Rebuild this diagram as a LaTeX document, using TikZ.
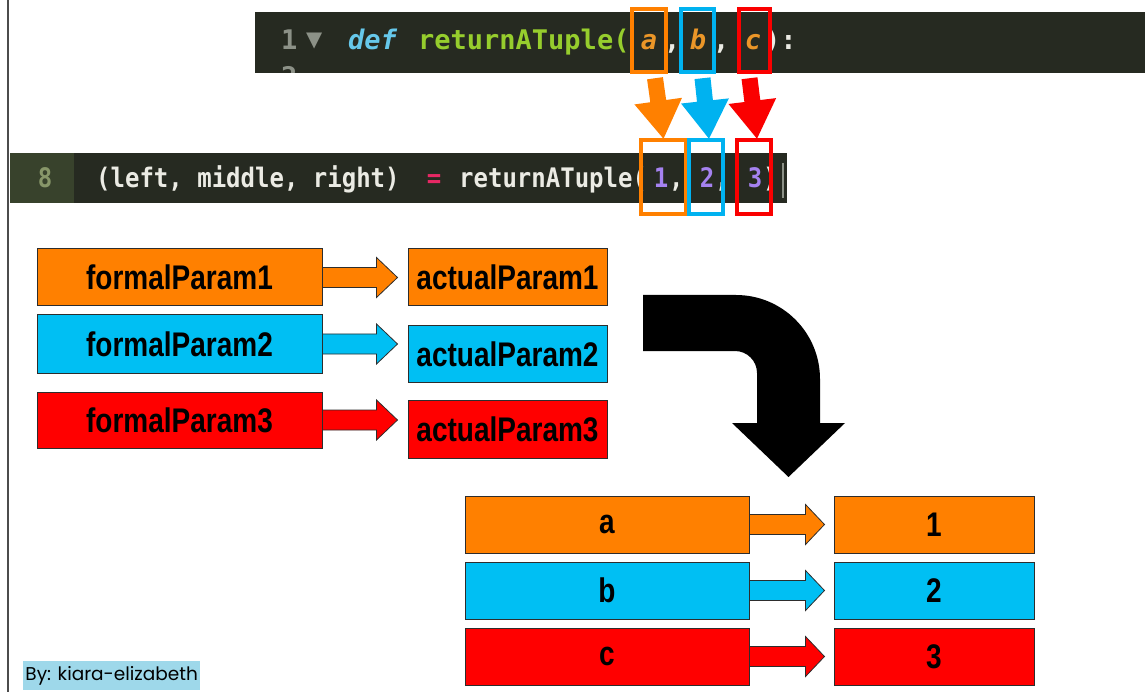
\documentclass[tikz,border=0pt]{standalone}
\usepackage{fontspec}
\setmainfont{Liberation Sans}
\newfontfamily\codefont{DejaVu Sans Mono}
\newfontfamily\symfont{DejaVu Sans}
\newfontfamily\signfont{Poppins}
\usetikzlibrary{calc}

\definecolor{porange}{RGB}{255,128,0}
\definecolor{pblue}{RGB}{0,191,243}
\definecolor{pred}{RGB}{255,0,0}
\definecolor{hlorange}{RGB}{255,128,0}
\definecolor{hlblue}{RGB}{0,178,240}
\definecolor{hlred}{RGB}{250,0,0}
\definecolor{codebg}{RGB}{38,42,33}
\definecolor{gutter}{RGB}{56,66,44}
\definecolor{boxline}{RGB}{45,45,45}
\definecolor{signbg}{RGB}{158,216,234}
\definecolor{lnum}{RGB}{140,145,135}
\definecolor{lnumtwo}{RGB}{135,150,105}
\definecolor{kwblue}{RGB}{102,200,235}
\definecolor{fngreen}{RGB}{150,205,45}
\definecolor{argorange}{RGB}{235,150,40}
\definecolor{plain}{RGB}{235,235,228}
\definecolor{oppink}{RGB}{230,40,100}
\definecolor{numpurple}{RGB}{165,130,240}

% straight block arrow from #2 to #3 (shaft half width #4, head half width #5, head length #6)
\newcommand\blockarr[6][]{%
  \path[#1]
    ($(#2)!#4!90:(#3)$) --
    ($($(#3)!#6!(#2)$)!#4!-90:(#2)$) --
    ($($(#3)!#6!(#2)$)!#5!-90:(#2)$) --
    (#3) --
    ($($(#3)!#6!(#2)$)!#5!90:(#2)$) --
    ($($(#3)!#6!(#2)$)!#4!90:(#2)$) --
    ($(#2)!#4!-90:(#3)$) -- cycle;}

\newcommand\lbl[1]{\scalebox{1}[1.22]{#1}}
\newcommand\tall[1]{\scalebox{1}[1.12]{#1}}

\begin{document}
\begin{tikzpicture}[x=1pt,y=-1pt,
  pbox/.style={draw=boxline, line width=1pt, inner sep=0pt, text=black,
    font=\bfseries\fontsize{28}{30}\selectfont},
  hl/.style={draw=#1, line width=4.5pt, inner sep=0pt},
  code/.style={inner sep=0pt, anchor=base west,
    font=\codefont\bfseries\fontsize{27}{30}\selectfont},
  codeit/.style={code, font=\codefont\bfseries\itshape\fontsize{27}{30}\selectfont},
  codetwo/.style={inner sep=0pt, anchor=base west,
    font=\codefont\bfseries\fontsize{24}{28}\selectfont},
  rowarrow/.style={draw=boxline, line width=0.8pt, fill=#1},
  downarrow/.style={fill=#1}
]
\useasboundingbox (0,0) rectangle (1145,692);
\fill[white] (0,0) rectangle (1145,692);
\draw[gray!60!black, line width=2pt] (8,0) -- (8,692);

% function definition line
\fill[codebg] (255,12) rectangle (1145,73);
\begin{scope}
  \clip (255,12) rectangle (1145,73);
  \node[code, text=lnum] (ln2) at (281,87) {2};
\end{scope}
\node[code, text=lnum] (ln1) at (281,50) {1};
\node[inner sep=0pt, anchor=base west, text=lnum,
  font=\symfont\fontsize{21}{22}\selectfont] (fold) at (306,47) {▼};
\node[codeit, text=kwblue] (kw) at (348,50) {def};
\node[code, text=fngreen] (fn) at (418,50) {returnATuple(};
\node[codeit, anchor=base, text=argorange] (pa0) at (649,50) {a};
\node[code, text=plain] (c1) at (664,50) {,};
\node[codeit, anchor=base, text=argorange] (pb0) at (698,50) {b};
\node[code, text=plain] (c2) at (713,50) {,};
\node[codeit, anchor=base, text=argorange] (pc0) at (753,50) {c};
\node[code, text=plain] (cl) at (764,50) {):};

% call line
\fill[codebg] (10,153) rectangle (787,203);
\fill[gutter] (10,153) rectangle (74,203);
\node[codetwo, anchor=base, text=lnumtwo] (ln8) at (45,188) {\tall{8}};
\node[codetwo, text=plain] (lhs) at (96,188) {\tall{(left, middle, right)}};
\node[codetwo, anchor=base, text=oppink] (eq) at (434,188) {\tall{=}};
\node[codetwo, text=plain] (call) at (459,188) {\tall{returnATuple(}};
\node[codetwo, anchor=base, text=numpurple] (n1) at (661,188) {\tall{1}};
\node[codetwo, text=plain] (d1) at (669,188) {\tall{,}};
\node[codetwo, anchor=base, text=numpurple] (n2) at (707,188) {\tall{2}};
\node[codetwo, text=plain] (d2) at (715,188) {\tall{,}};
\node[codetwo, anchor=base, text=numpurple] (n3) at (755,188) {\tall{3}};
\node[codetwo, text=plain] (d3) at (763,188) {\tall{)}};
\draw[lnum, line width=1.2pt] (783,163) -- (783,198);

% highlights around parameters and arguments
\node[hl=hlorange, minimum width=34, minimum height=63] (ta) at (649,40.5) {};
\node[hl=hlblue, minimum width=33, minimum height=63] (tb) at (697.5,40.5) {};
\node[hl=hlred, minimum width=31, minimum height=63] (tc) at (754.5,40.5) {};
\node[hl=hlorange, minimum width=45, minimum height=74] (b1) at (663.5,177) {};
\node[hl=hlblue, minimum width=34, minimum height=74] (b2) at (706,177) {};
\node[hl=hlred, minimum width=34, minimum height=74] (b3) at (754,177) {};

% parameter -> argument arrows
\coordinate (sa) at ($(ta.south)+(6,4)$);
\coordinate (sb) at ($(tb.south)+(5,4)$);
\coordinate (sc) at ($(tc.south)+(-5,4)$);
\coordinate (ea) at ($(b1.north)+(0,1)$);
\coordinate (eb) at ($(b2.north)+(3,1)$);
\coordinate (ec) at ($(b3.north)+(3,1)$);
\blockarr[downarrow=hlorange]{sa}{ea}{8pt}{24pt}{38pt}
\blockarr[downarrow=hlblue]{sb}{eb}{8pt}{24pt}{38pt}
\blockarr[downarrow=hlred]{sc}{ec}{8pt}{24pt}{38pt}

% general table
\node[pbox, fill=porange, minimum width=285, minimum height=57] (f1) at (179.5,277.5) {\lbl{formalParam1}};
\node[pbox, fill=pblue, minimum width=285, minimum height=58] (f2) at (179.5,344) {\lbl{formalParam2}};
\node[pbox, fill=pred, minimum width=285, minimum height=56] (f3) at (179.5,420) {\lbl{formalParam3}};
\node[pbox, fill=porange, minimum width=199, minimum height=57] (a1) at (507.5,277.5) {\lbl{actualParam1}};
\node[pbox, fill=pblue, minimum width=199, minimum height=56] (a2) at (507.5,354) {\lbl{actualParam2}};
\node[pbox, fill=pred, minimum width=199, minimum height=58] (a3) at (507.5,429) {\lbl{actualParam3}};
\coordinate (t1) at ($(f1.east -| a1.west)+(-10,0)$);
\coordinate (t2) at ($(f2.east -| a2.west)+(-10,0)$);
\coordinate (t3) at ($(f3.east -| a3.west)+(-10,0)$);
\blockarr[rowarrow=porange]{f1.east}{t1}{10pt}{20pt}{21pt}
\blockarr[rowarrow=pblue]{f2.east}{t2}{10pt}{20pt}{21pt}
\blockarr[rowarrow=pred]{f3.east}{t3}{10pt}{20pt}{21pt}

% bent arrow
\fill[black] (643,295) -- (736,295) arc[start angle=-90, end angle=0, radius=84]
  -- (820,423) -- (845,423) -- (788.5,477) -- (732,423) -- (757,423) -- (757,373)
  arc[start angle=0, end angle=-90, radius=22] -- (643,351) -- cycle;

% concrete table
\node[pbox, fill=porange, minimum width=284, minimum height=57] (pa) at (607,524.5) {\lbl{a}};
\node[pbox, fill=pblue, minimum width=284, minimum height=57] (pb) at (607,590.5) {\lbl{b}};
\node[pbox, fill=pred, minimum width=284, minimum height=57] (pc) at (607,656.5) {\lbl{c}};
\node[pbox, fill=porange, minimum width=200, minimum height=57] (v1) at (934,524.5) {\lbl{1}};
\node[pbox, fill=pblue, minimum width=200, minimum height=57] (v2) at (934,590.5) {\lbl{2}};
\node[pbox, fill=pred, minimum width=200, minimum height=57] (v3) at (934,656.5) {\lbl{3}};
\coordinate (u1) at ($(pa.east -| v1.west)+(-9,0)$);
\coordinate (u2) at ($(pb.east -| v2.west)+(-9,0)$);
\coordinate (u3) at ($(pc.east -| v3.west)+(-9,0)$);
\blockarr[rowarrow=porange]{pa.east}{u1}{10pt}{20pt}{19pt}
\blockarr[rowarrow=pblue]{pb.east}{u2}{10pt}{20pt}{19pt}
\blockarr[rowarrow=pred]{pc.east}{u3}{10pt}{20pt}{19pt}

% signature
\node[fill=signbg, inner sep=0pt, minimum width=177, minimum height=29, anchor=north west,
  font=\signfont\fontsize{18.5}{19}\selectfont, text=black] (sig) at (23,661) {By: kiara-elizabeth};
\end{tikzpicture}
\end{document}
